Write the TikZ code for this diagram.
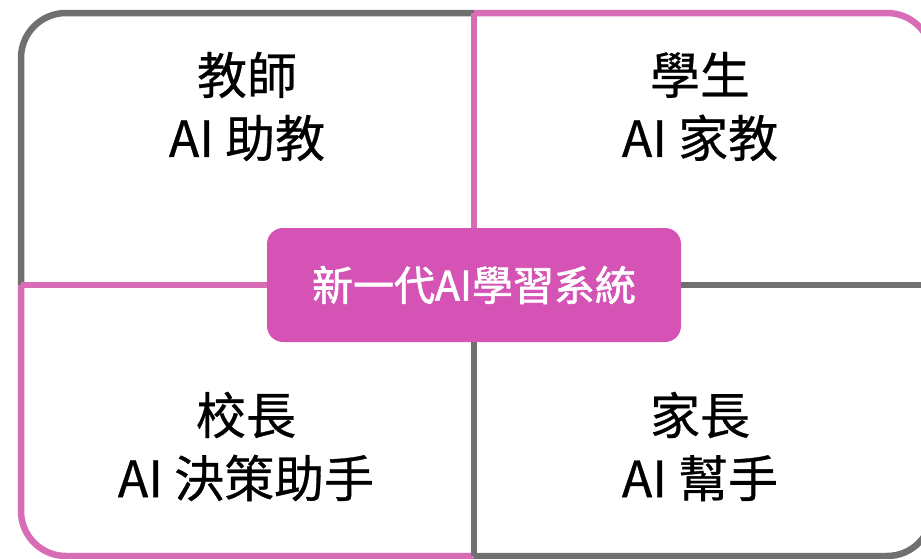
\documentclass[tikz,border=0pt]{standalone}
\usepackage{fontspec}
\setmainfont{Noto Sans CJK TC}
\newfontfamily\rolefont{Noto Sans CJK TC}[FakeBold=0.6]
\newfontfamily\corefont{Noto Sans CJK TC}[FakeBold=1.6]
\definecolor{lgray}{HTML}{707070}
\definecolor{lpink}{HTML}{D86DB6}
\definecolor{boxpink}{HTML}{D453B4}
\begin{document}
\begin{tikzpicture}[x=1pt,y=-1pt,
  frame/.style={line width=6.5pt},
  role/.style={align=center, font=\rolefont\fontsize{50}{63}\selectfont, text=black, inner sep=0pt},
  corebox/.style={fill=boxpink, rounded corners=16pt, minimum width=414pt, minimum height=114pt,
    inner sep=0pt, text=white, font=\corefont\fontsize{41}{41}\selectfont}]
\useasboundingbox (0,0) rectangle (921,558);
\clip (0,0) rectangle (921,558);
\node[corebox] (core) at (474,285) {新一代AI學習系統};
\coordinate (L) at (21,285);
\coordinate (R) at (932,285);
\coordinate (T) at (474,13);
\coordinate (B) at (474,556);
% gray top-left
\draw[frame, lgray, rounded corners=45pt] (L) -- (21,13) -- (T);
% pink parts
\draw[frame, lpink, rounded corners=45pt] (T) -- (932,13) -- (R);
\draw[frame, lpink] (core.north) -- (T);
\draw[frame, lpink, rounded corners=45pt] (L) -- (21,556) -- (B);
\draw[frame, lpink] (core.west) -- (L);
% gray bottom-right
\draw[frame, lgray, rounded corners=45pt] (B) -- (932,556) -- (R);
\draw[frame, lgray] (core.east) -- (R);
\draw[frame, lgray] (core.south) -- (B);
\node[role] (teacher) at (247,106.5) {教師\\AI 助教};
\node[role] (student) at (700,106.5) {學生\\AI 家教};
\node[role] (principal) at (246,446.5) {校長\\AI 決策助手};
\node[role] (parent) at (700,446.5) {家長\\AI 幫手};
\end{tikzpicture}
\end{document}
